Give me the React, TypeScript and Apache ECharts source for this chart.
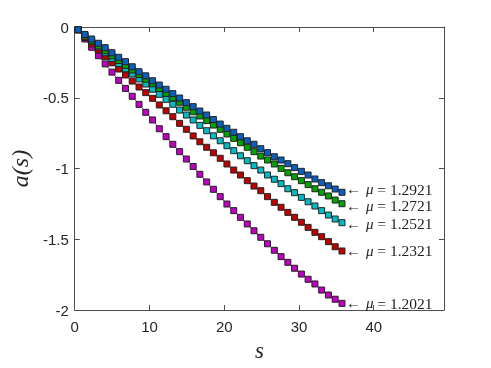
import React, { useEffect, useRef } from "react";
import * as echarts from "echarts";

// s positions of the markers (shared by all series)
const sValues = [
  0.45, 1.36, 2.26, 3.17, 4.07, 4.98, 5.88, 6.79, 7.69, 8.6,
  9.5, 10.41, 11.31, 12.22, 13.12, 14.03, 14.93, 15.84, 16.74, 17.65,
  18.55, 19.46, 20.36, 21.27, 22.17, 23.08, 23.98, 24.89, 25.79, 26.7,
  27.6, 28.51, 29.41, 30.32, 31.22, 32.13, 33.03, 33.94, 34.84, 35.75,
];

const mu12921 = [
  -0.019, -0.053, -0.085, -0.115, -0.146, -0.182, -0.214, -0.245, -0.281, -0.316,
  -0.345, -0.38, -0.41, -0.44, -0.471, -0.502, -0.535, -0.563, -0.594, -0.622,
  -0.654, -0.686, -0.716, -0.744, -0.775, -0.804, -0.829, -0.86, -0.888, -0.917,
  -0.94, -0.966, -0.994, -1.02, -1.046, -1.074, -1.1, -1.122, -1.145, -1.168,
];
const mu12721 = [
  -0.019, -0.064, -0.099, -0.134, -0.168, -0.204, -0.237, -0.271, -0.304, -0.336,
  -0.369, -0.401, -0.435, -0.469, -0.5, -0.532, -0.567, -0.599, -0.629, -0.661,
  -0.693, -0.723, -0.756, -0.787, -0.818, -0.85, -0.881, -0.912, -0.94, -0.968,
  -0.999, -1.03, -1.058, -1.086, -1.114, -1.143, -1.168, -1.194, -1.223, -1.249,
];
const mu12521 = [
  -0.019, -0.061, -0.101, -0.141, -0.182, -0.223, -0.259, -0.295, -0.331, -0.367,
  -0.403, -0.44, -0.476, -0.511, -0.546, -0.587, -0.622, -0.657, -0.695, -0.733,
  -0.769, -0.804, -0.839, -0.874, -0.91, -0.945, -0.98, -1.011, -1.046, -1.076,
  -1.107, -1.143, -1.171, -1.204, -1.235, -1.265, -1.298, -1.329, -1.357, -1.383,
];
const mu12321 = [
  -0.019, -0.074, -0.12, -0.163, -0.208, -0.253, -0.297, -0.339, -0.382, -0.424,
  -0.464, -0.504, -0.551, -0.592, -0.634, -0.681, -0.723, -0.77, -0.811, -0.85,
  -0.889, -0.928, -0.968, -1.011, -1.046, -1.086, -1.124, -1.157, -1.199, -1.239,
  -1.274, -1.31, -1.345, -1.38, -1.416, -1.451, -1.482, -1.517, -1.553, -1.583,
];
const mu12021 = [
  -0.019, -0.085, -0.143, -0.203, -0.261, -0.319, -0.377, -0.434, -0.49, -0.547,
  -0.603, -0.657, -0.719, -0.775, -0.829, -0.881, -0.933, -0.986, -1.041, -1.095,
  -1.147, -1.199, -1.251, -1.298, -1.345, -1.392, -1.44, -1.486, -1.532, -1.578,
  -1.623, -1.663, -1.705, -1.746, -1.783, -1.816, -1.859, -1.894, -1.924, -1.953,
];

const muLabels = ["1.2021", "1.2321", "1.2521", "1.2721", "1.2921"];
const seriesValues = [mu12021, mu12321, mu12521, mu12721, mu12921];
const seriesColors = ["#c000c0", "#c00000", "#00bcc6", "#00a400", "#0a5fbe"];
const labelNudge = [0, 0, 1, 2, -3];

const xTicks = [0, 10, 20, 30, 40];

export default function App() {
  const ref = useRef<HTMLDivElement>(null);
  useEffect(() => {
    if (!ref.current) return;
    const chart = echarts.init(ref.current, null, { renderer: "svg" });
    const axisColor = "#4d4d4d";
    const labelStyle = {
      color: "#262626",
      fontSize: 15,
      fontFamily: "Liberation Sans, Arial, sans-serif",
    };
    const serif = "Liberation Serif, DejaVu Serif, serif";
    const series = seriesValues.map((vals, i) => ({
      type: "line",
      name: muLabels[i],
      data: vals.map((v, k) => [sValues[k], v]),
      symbol: "rect",
      symbolSize: 6,
      showAllSymbol: true,
      lineStyle: { color: seriesColors[i], width: 1 },
      itemStyle: { color: seriesColors[i], borderColor: "#222", borderWidth: 1 },
      endLabel: {
        show: true,
        distance: 4,
        offset: [0, labelNudge[i]],
        formatter: () => `{ar|←}{mu|μ}{t| = ${muLabels[i]}}`,
        color: "#222",
        fontSize: 15,
        lineHeight: 14,
        fontFamily: serif,
        rich: {
          ar: { fontSize: 15, lineHeight: 14, fontFamily: serif, color: "#222", padding: [0, 5, 0, 0] },
          mu: { fontSize: 15, lineHeight: 14, fontStyle: "italic", fontFamily: serif, color: "#222" },
          t: { fontSize: 15.5, lineHeight: 14, fontFamily: serif, color: "#222" },
        },
      },
      emphasis: { disabled: true },
    }));
    chart.setOption({
      animation: false,
      grid: { left: 72, top: 27, right: 47, bottom: 58, containLabel: false },
      xAxis: [
        {
          type: "value",
          position: "bottom",
          min: 0,
          max: 49.4,
          interval: 10,
          axisLine: { show: true, onZero: false, lineStyle: { color: axisColor, width: 1 } },
          axisTick: { show: true, inside: true, length: 5, lineStyle: { color: axisColor } },
          axisLabel: {
            ...labelStyle,
            margin: 9,
            formatter: (v: number) => (xTicks.includes(v) ? String(v) : ""),
          },
          splitLine: { show: false },
          name: "s",
          nameLocation: "middle",
          nameGap: 29,
          nameTextStyle: { fontSize: 23, fontStyle: "italic", fontFamily: serif, color: "#262626" },
        },
        {
          type: "value",
          position: "top",
          min: 0,
          max: 49.4,
          interval: 10,
          axisLine: { show: true, onZero: false, lineStyle: { color: axisColor, width: 1 } },
          axisTick: { show: true, inside: true, length: 5, lineStyle: { color: axisColor } },
          axisLabel: { show: false },
          splitLine: { show: false },
        },
      ],
      yAxis: [
        {
          type: "value",
          position: "left",
          min: -2,
          max: 0,
          interval: 0.5,
          axisLine: { show: true, onZero: false, lineStyle: { color: axisColor, width: 1 } },
          axisTick: { show: true, inside: true, length: 5, lineStyle: { color: axisColor } },
          axisLabel: { ...labelStyle, margin: 6 },
          splitLine: { show: false },
          name: "a(s)",
          nameLocation: "middle",
          nameRotate: 90,
          nameGap: 39,
          nameTextStyle: { fontSize: 24, fontStyle: "italic", fontFamily: serif, color: "#262626" },
        },
        {
          type: "value",
          position: "right",
          min: -2,
          max: 0,
          interval: 0.5,
          axisLine: { show: true, onZero: false, lineStyle: { color: axisColor, width: 1 } },
          axisTick: { show: true, inside: true, length: 5, lineStyle: { color: axisColor } },
          axisLabel: { show: false },
          splitLine: { show: false },
        },
      ],
      series,
    });
    return () => chart.dispose();
  }, []);
  return (
    <div
      ref={ref}
      style={{ position: "fixed", left: 0, top: 0, width: 491, height: 368 }}
    />
  );
}
